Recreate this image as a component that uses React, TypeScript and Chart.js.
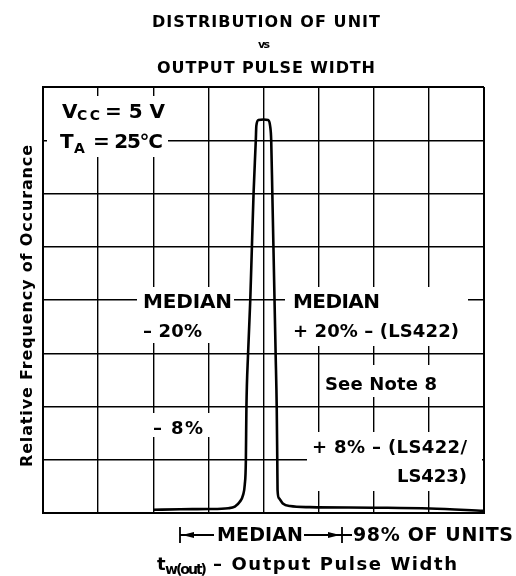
import React, { useEffect, useRef } from "react";
import { Chart, registerables } from "chart.js";

Chart.register(...registerables);

// x: output pulse width in grid divisions (median at 4); y: relative frequency in grid divisions
const pulseWidth = [2.0, 2.49, 2.99, 3.36, 3.48, 3.57, 3.63, 3.66, 3.68, 3.69, 3.72, 3.76, 3.79, 3.82, 3.86, 3.87, 3.91, 4.0, 4.08, 4.12, 4.14, 4.16, 4.18, 4.2, 4.22, 4.24, 4.25, 4.255, 4.28, 4.35, 4.48, 4.84, 5.99, 7.02, 8.0];
const relFrequency = [0.06, 0.07, 0.075, 0.09, 0.12, 0.21, 0.34, 0.53, 0.98, 1.97, 2.99, 4.0, 5.01, 6.01, 6.99, 7.27, 7.38, 7.39, 7.38, 7.27, 6.99, 6.01, 5.01, 4.0, 2.99, 1.97, 0.98, 0.43, 0.28, 0.18, 0.13, 0.11, 0.1, 0.085, 0.04];

const xRange = [0, 8];
const yRange = [0, 8];
const gridStep = 1;

const titleLines = ["DISTRIBUTION OF UNIT", "vs", "OUTPUT PULSE WIDTH"];
const yAxisLabel = "Relative Frequency of Occurance";
const xAxisLabelParts = ["t", "w(out)", "– Output Pulse Width"];
const bottomLabels = ["MEDIAN", "98% OF UNITS"];

const FONT = "'DejaVu Sans', 'Liberation Sans', Arial, sans-serif";

type T = { s: string; x: number; y: number; size: number; w?: number; weight?: string; fam?: string };

const texts: T[] = [
  { s: titleLines[0], x: 152, y: 27, size: 16, w: 228 },
  { s: titleLines[1], x: 258, y: 48, size: 11, w: 12 },
  { s: titleLines[2], x: 157, y: 73, size: 16, w: 218 },
  { s: "V", x: 62, y: 118, size: 20 },
  { s: "CC", x: 77, y: 120, size: 14, w: 23 },
  { s: "= 5 V", x: 105, y: 118, size: 20, w: 60 },
  { s: "T", x: 60, y: 148, size: 20 },
  { s: "A", x: 74, y: 153, size: 14 },
  { s: "= 25°C", x: 93, y: 148, size: 20, w: 70 },
  { s: "MEDIAN", x: 143, y: 308, size: 20, w: 89 },
  { s: "– 20%", x: 143, y: 337, size: 18, w: 59 },
  { s: "MEDIAN", x: 293, y: 308, size: 20, w: 87 },
  { s: "+ 20% – (LS422)", x: 293, y: 337, size: 18, w: 166 },
  { s: "See Note 8", x: 325, y: 390, size: 18, w: 112 },
  { s: "– 8%", x: 153, y: 434, size: 18, w: 50 },
  { s: "+ 8% – (LS422/", x: 312, y: 453, size: 18, w: 155 },
  { s: "LS423)", x: 397, y: 482, size: 18, w: 70 },
  { s: bottomLabels[0], x: 217, y: 541, size: 19, w: 86 },
  { s: bottomLabels[1], x: 353, y: 541, size: 19, w: 160 },
  { s: xAxisLabelParts[0], x: 157, y: 570, size: 18 },
  { s: xAxisLabelParts[1], x: 165, y: 574, size: 14, w: 42 },
  { s: xAxisLabelParts[2], x: 213, y: 570, size: 18, w: 244 },
];

const whiteBoxes = [
  [47, 96, 168, 157],
  [137, 287, 234, 343],
  [285, 287, 468, 346],
  [320, 365, 442, 397],
  [150, 413, 210, 437],
  [307, 432, 482, 491],
];

function drawText(ctx: CanvasRenderingContext2D, t: T) {
  ctx.save();
  ctx.font = `${t.weight || "bold"} ${t.size}px ${t.fam || FONT}`;
  (ctx as any).letterSpacing = "0px";
  const m = ctx.measureText(t.s).width;
  if (t.w && t.s.length > 1) {
    const ls = (t.w - m) / (t.s.length - 1);
    (ctx as any).letterSpacing = `${ls}px`;
  }
  ctx.fillStyle = "#000";
  ctx.textAlign = "left";
  ctx.textBaseline = "alphabetic";
  ctx.fillText(t.s, t.x, t.y);
  ctx.restore();
}

const annotPlugin = {
  id: "annot",
  beforeDatasetsDraw(chart: any) {
    const ctx = chart.ctx as CanvasRenderingContext2D;
    ctx.save();
    ctx.fillStyle = "#fff";
    for (const b of whiteBoxes) ctx.fillRect(b[0], b[1], b[2] - b[0], b[3] - b[1]);
    ctx.restore();
  },
  afterDraw(chart: any) {
    const ctx = chart.ctx as CanvasRenderingContext2D;
    for (const t of texts) drawText(ctx, t);
    // y axis label
    ctx.save();
    ctx.translate(32, 306);
    ctx.rotate(-Math.PI / 2);
    drawText(ctx, { s: yAxisLabel, x: -161, y: 0, size: 16, w: 322 });
    ctx.restore();
    // bottom arrows
    ctx.save();
    ctx.strokeStyle = "#000";
    ctx.fillStyle = "#000";
    ctx.lineWidth = 1.8;
    ctx.beginPath();
    ctx.moveTo(180, 527); ctx.lineTo(180, 543);
    ctx.moveTo(180, 535); ctx.lineTo(214, 535);
    ctx.moveTo(304, 535); ctx.lineTo(352, 535);
    ctx.moveTo(342, 527); ctx.lineTo(342, 543);
    ctx.stroke();
    ctx.beginPath();
    ctx.moveTo(182, 535); ctx.lineTo(194, 532); ctx.lineTo(194, 538); ctx.closePath();
    ctx.moveTo(340, 535); ctx.lineTo(328, 532); ctx.lineTo(328, 538); ctx.closePath();
    ctx.fill();
    ctx.restore();
  },
};

export default function App() {
  const ref = useRef<HTMLCanvasElement | null>(null);
  useEffect(() => {
    if (!ref.current) return;
    const pts = pulseWidth.map((x, i) => ({ x, y: relFrequency[i] }));
    const gridW = (c: any) => (c.index === 0 || c.index === 8 ? 2 : 1.4);
    const chart = new Chart(ref.current, {
      type: "scatter",
      data: {
        datasets: [
          {
            data: pts,
            showLine: true,
            borderColor: "#000",
            borderWidth: 2.6,
            pointRadius: 0,
            cubicInterpolationMode: "monotone",
            fill: false,
          },
        ],
      },
      options: {
        animation: false,
        responsive: false,
        layout: { padding: { left: 43, right: 32, top: 87, bottom: 63 } },
        plugins: { legend: { display: false }, tooltip: { enabled: false }, title: { display: false } },
        scales: {
          x: {
            type: "linear",
            min: xRange[0],
            max: xRange[1],
            ticks: { display: false, stepSize: gridStep },
            grid: { color: "#000", lineWidth: gridW, drawTicks: false },
            border: { display: true, color: "#000", width: 2 },
          },
          y: {
            type: "linear",
            min: yRange[0],
            max: yRange[1],
            ticks: { display: false, stepSize: gridStep },
            grid: { color: "#000", lineWidth: gridW, drawTicks: false },
            border: { display: true, color: "#000", width: 2 },
          },
        },
      },
      plugins: [annotPlugin],
    } as any);
    return () => chart.destroy();
  }, []);
  return (
    <div style={{ position: "absolute", left: 0, top: 0, width: 516, height: 576, background: "#fff" }}>
      <canvas ref={ref} width={516} height={576} style={{ display: "block", width: 516, height: 576 }} />
    </div>
  );
}
